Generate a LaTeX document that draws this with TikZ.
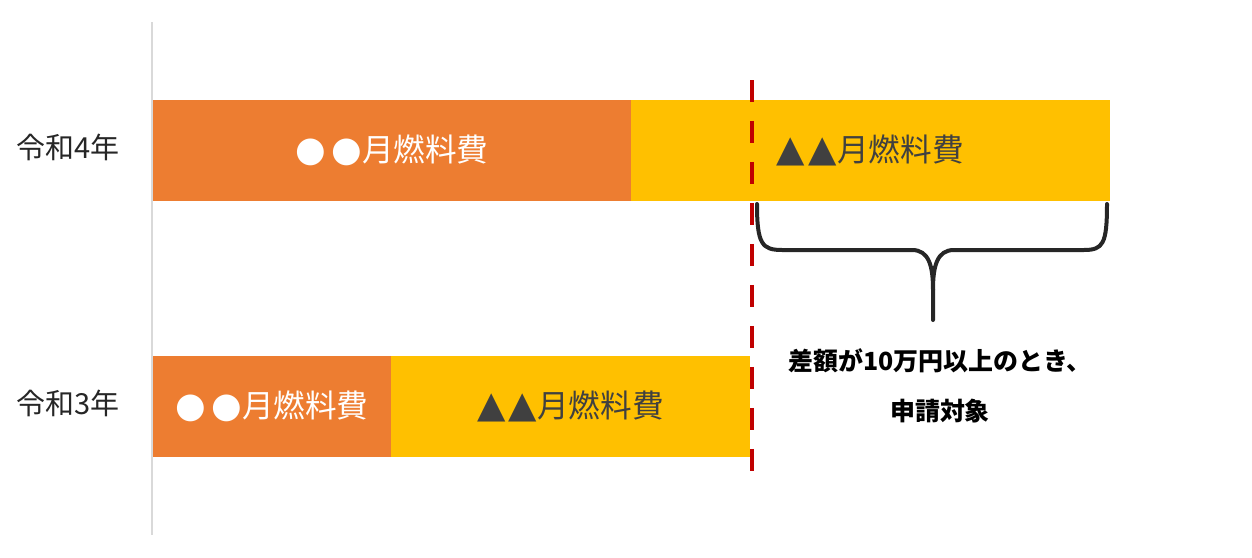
\documentclass[tikz,border=0pt]{standalone}
\usepackage{fontspec}
\setmainfont{Noto Sans CJK JP}
\newfontfamily\symfont{DejaVu Sans}
\usetikzlibrary{positioning}
\definecolor{BarOrange}{RGB}{237,125,49}
\definecolor{BarYellow}{RGB}{255,192,0}
\definecolor{CutRed}{RGB}{192,0,0}
\definecolor{BarText}{RGB}{64,64,64}
\definecolor{AxisGray}{RGB}{217,217,217}
\definecolor{BraceGray}{RGB}{38,38,38}
\newcommand{\circmark}{{\symfont\fontsize{20}{22}\selectfont ●}}
\newcommand{\trimark}{{\symfont\fontsize{21}{22}\selectfont ▲}}

\begin{document}
\begin{tikzpicture}[
    x=0.02cm, y=-0.02cm,
    % --- Styles ---
    % Style shared by all bar segments
    bar-style/.style={
        rectangle, inner sep=0pt, outer sep=0pt,
        minimum height=2.02cm,
        font=\fontsize{18}{20}\selectfont
    },
    % Orange and yellow segments
    bar-orange/.style={bar-style, fill=BarOrange, text=white},
    bar-yellow/.style={bar-style, fill=BarYellow, text=BarText},
    % Year labels on the left
    year-label/.style={
        font=\fontsize{16.5}{18}\selectfont,
        text=BraceGray
    },
    % Style for the red cut line
    cut-line/.style={
        draw=CutRed, line width=0.08cm,
        dash pattern=on 0.44cm off 0.38cm
    },
    % Style for the brace
    brace-line/.style={
        draw=BraceGray, line width=0.08cm,
        line cap=round, line join=round
    },
    % Style for the note under the brace
    note-text/.style={
        font=\fontsize{14.2}{28.5}\selectfont\bfseries,
        align=center
    }
]
\useasboundingbox (0,0) rectangle (1252,558);

% --- Axis line ---
\coordinate (axis-top) at (152,22);
\coordinate (axis-bot) at (152,535);
\draw[AxisGray, line width=0.04cm] (axis-top) -- (axis-bot);

% --- Bar 1: Reiwa 4 ---
\node[bar-orange, minimum width=9.56cm, anchor=west] (r4-a) at (153,150.5) {\circmark\,\circmark{}月燃料費};
\node[bar-yellow, minimum width=9.58cm, right=0pt of r4-a] (r4-b) {\trimark\kern2pt\trimark{}月燃料費};
\node[year-label] (r4-label) at (68,147) {令和4年};

% --- Bar 2: Reiwa 3 ---
\node[bar-orange, minimum width=4.76cm, anchor=west] (r3-a) at (153,406.5) {\circmark\,\circmark{}月燃料費};
\node[bar-yellow, minimum width=7.18cm, right=0pt of r3-a] (r3-b) {\trimark\kern2pt\trimark{}月燃料費};
\node[year-label] (r3-label) at (68,403) {令和3年};

% --- Red cut line ---
\coordinate (cut-top) at (752,80);
\coordinate (cut-bot) at (752,482);
\draw[cut-line] (cut-top) -- (cut-bot);

% --- Brace ---
\coordinate (brace-tip) at (933,290);
\draw[brace-line] (757,204) .. controls (757,244) and (762,250) .. (782,250)
    -- (912,250) .. controls (929,250) and (933,266) .. (brace-tip) -- (933,320);
\draw[brace-line] (brace-tip) .. controls (933,266) and (937,250) .. (954,250)
    -- (1084,250) .. controls (1103,250) and (1107,244) .. (1107,204);

% --- Note ---
\node[note-text] (note) at (940,386) {差額が10万円以上のとき、\\申請対象};

\end{tikzpicture}
\end{document}
